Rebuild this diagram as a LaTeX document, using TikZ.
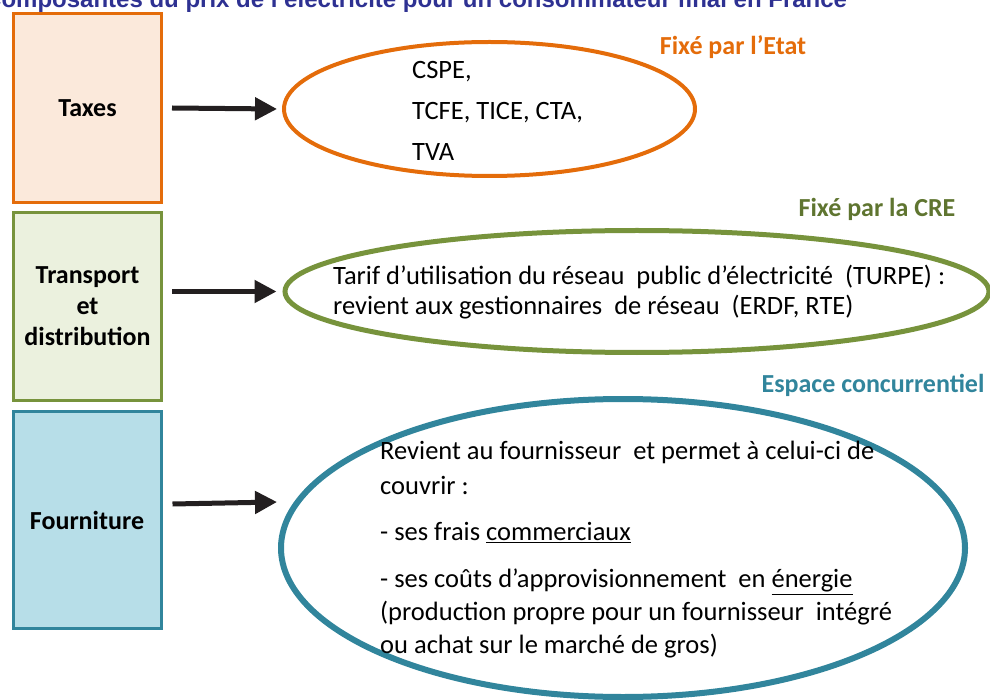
\documentclass[tikz,border=0pt]{standalone}
\usepackage{fontspec}
\setmainfont{Carlito}
\newfontfamily\titlefont{Liberation Sans}
\usepackage{xcolor}
\definecolor{mOrange}{HTML}{E46C0A}
\definecolor{mOrangeBg}{HTML}{FBE9DB}
\definecolor{mGreen}{HTML}{77933C}
\definecolor{mGreenBg}{HTML}{EBF1DE}
\definecolor{mGreenText}{HTML}{5F7530}
\definecolor{mTeal}{HTML}{31859C}
\definecolor{mTealBg}{HTML}{B7DEE8}
\definecolor{mTitle}{HTML}{2E3192}
\definecolor{mBlack}{HTML}{231F20}
\usepackage{tikz}
\usetikzlibrary{positioning,arrows.meta,shapes.geometric}

\begin{document}
\begin{tikzpicture}[x=1pt, y=-1pt, font=\fontsize{26.5}{33}\selectfont,
  catbox/.style={draw, rectangle, line width=3pt, align=center, font=\bfseries\fontsize{26}{31}\selectfont},
  zone/.style={draw, ellipse, inner sep=0pt},
  zonetext/.style={anchor=west, align=left, inner sep=0pt},
  zonelabel/.style={font=\bfseries\fontsize{26}{30}\selectfont},
  bigarrow/.style={-{Triangle[length=22pt,width=22pt]}, line width=5pt, mBlack}]
\useasboundingbox (0,0) rectangle (990,700);
\clip (0,0) rectangle (990,700);
% title, cut by the top edge
\node[anchor=base west, inner sep=0pt, text=mTitle, font=\titlefont\bfseries\fontsize{24}{28}\selectfont] (title) at (-16,8) {Composantes du prix de l’électricité pour un consommateur final en France};
% categories
\node[catbox, draw=mOrange, fill=mOrangeBg, minimum width=148pt, minimum height=189pt] (taxes) at (87.5,108) {Taxes};
\node[catbox, draw=mGreen, fill=mGreenBg, minimum width=148pt, minimum height=188pt] (transport) at (87.5,306.5) {Transport\\et\\distribution};
\node[catbox, draw=mTeal, fill=mTealBg, minimum width=148pt, minimum height=217pt] (fourniture) at (87,520) {Fourniture};
% zones
\node[zone, draw=mOrange, line width=4pt, minimum width=411pt, minimum height=134pt] (etat) at (489.5,109) {};
\node[zone, draw=mGreen, line width=5pt, minimum width=704pt, minimum height=122pt] (turpe) at (637,291.5) {};
\node[zone, draw=mTeal, line width=6pt, minimum width=684pt, minimum height=298pt] (marche) at (623,548) {};
\node[zonetext] (etattext) at (412,111) {CSPE,\\[8pt]TCFE, TICE, CTA,\\[8pt]TVA};
\node[zonetext] (turpetext) at (333,292) {Tarif d’utilisation du réseau\ \ public d’électricité\ \ (TURPE) :\\[-3pt]revient aux gestionnaires\ \ de réseau\ \ (ERDF, RTE)};
\node[zonetext] (marchetext) at (380,550) {Revient au fournisseur\ \ et permet à celui-ci de\\[2pt]couvrir :\\[13pt]- ses frais \underline{commerciaux}\\[14pt]- ses coûts d’approvisionnement\ \ en \underline{énergie}\\(production propre pour un fournisseur\ \ intégré\\ou achat sur le marché de gros)};
% who sets it
\node[zonelabel, text=mOrange] (etatlabel) at (733,47) {Fixé par l’Etat};
\node[zonelabel, text=mGreenText] (crelabel) at (877,209) {Fixé par la CRE};
\node[zonelabel, text=mTeal, anchor=east] (marchelabel) at (988,385) {Espace concurrentiel};
% arrows
\draw[bigarrow] ([xshift=9pt]taxes.east) -- ([xshift=-5pt]etat.west);
\draw[bigarrow] ([xshift=9pt]transport.east |- turpe.west) -- ([xshift=-6pt]turpe.west);
\draw[bigarrow] ([xshift=10pt,yshift=16pt]fourniture.east) -- ([xshift=-1pt,yshift=46pt]marche.west);
\end{tikzpicture}
\end{document}
